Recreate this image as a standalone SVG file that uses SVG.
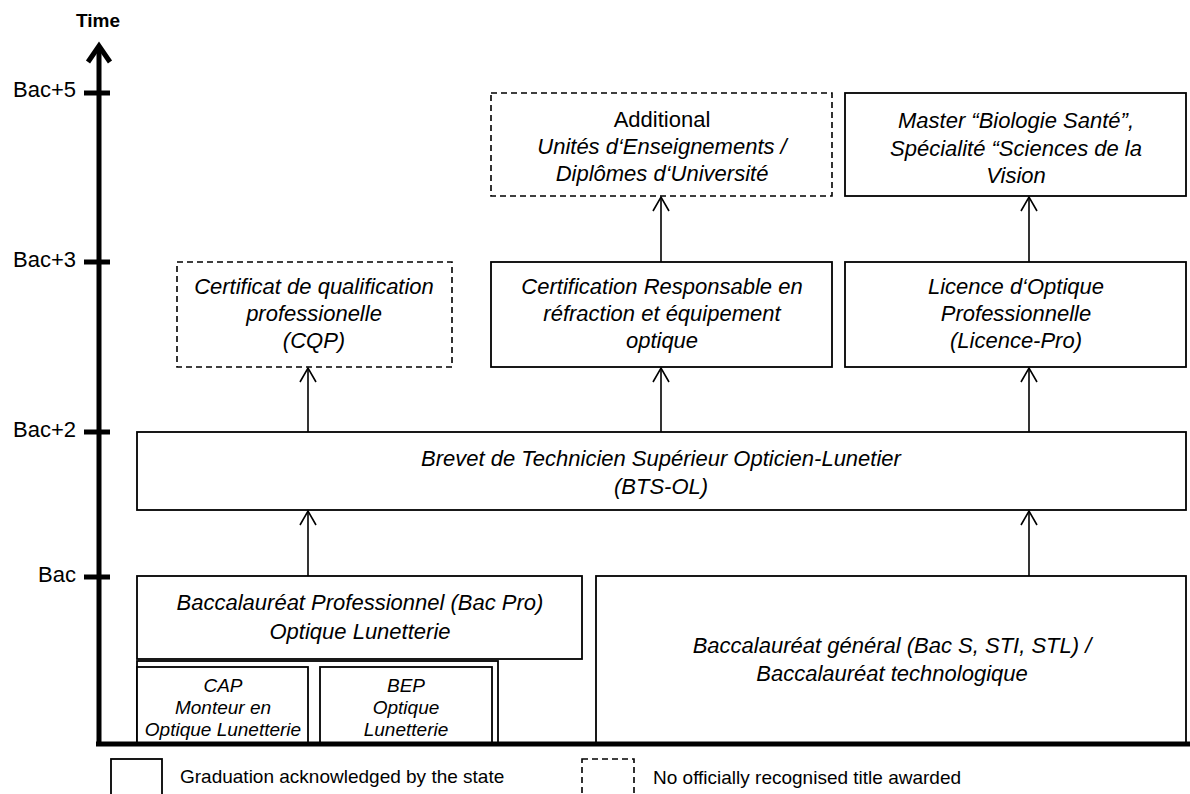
<svg xmlns="http://www.w3.org/2000/svg" width="1190" height="794" viewBox="0 0 1190 794">
<style>
  text { font-family: "Liberation Sans", Arial, sans-serif; fill: #000; }
  .box { fill: #fff; stroke: #000; stroke-width: 1.8; }
  .dash { fill: #fff; stroke: #000; stroke-width: 1.6; stroke-dasharray: 6 4; }
  .t { font-size: 22px; font-style: italic; text-anchor: middle; }
  .tn { font-size: 22px; text-anchor: middle; }
  .s { font-size: 19px; font-style: italic; text-anchor: middle; }
  .lbl { font-size: 22px; text-anchor: end; }
  .leg { font-size: 19px; }
  .axis { fill: none; stroke: #000; stroke-width: 5; }
  .conn { fill: none; stroke: #000; stroke-width: 1.6; marker-end: url(#arr); }
</style>
<defs>
  <marker id="arr" viewBox="-16 -10 18 20" refX="0" refY="0" markerWidth="18" markerHeight="20" markerUnits="userSpaceOnUse" orient="auto" overflow="visible">
    <path d="M-14,-8 L0,0 L-14,8" fill="none" stroke="#000" stroke-width="1.6"/>
  </marker>
</defs>

<g id="node-additional">
  <rect class="dash" x="491" y="93" width="341" height="103"/>
  <text class="tn" x="662" y="127">Additional</text>
  <text class="t" x="662" y="154">Unités d‘Enseignements  /</text>
  <text class="t" x="662" y="181">Diplômes d‘Université</text>
</g>
<g id="node-master">
  <rect class="box" x="845" y="93" width="341" height="103"/>
  <text class="t" x="1016" y="128">Master “Biologie  Santé”,</text>
  <text class="t" x="1016" y="156">Spécialité “Sciences de la</text>
  <text class="t" x="1016" y="183">Vision</text>
</g>
<g id="node-cqp">
  <rect class="dash" x="177" y="262" width="275" height="105"/>
  <text class="t" x="314" y="294">Certificat de qualification</text>
  <text class="t" x="314" y="321">professionelle</text>
  <text class="t" x="314" y="348">(CQP)</text>
</g>
<g id="node-certification">
  <rect class="box" x="491" y="262" width="341" height="105"/>
  <text class="t" x="662" y="294">Certification Responsable  en</text>
  <text class="t" x="662" y="321">réfraction et équipement</text>
  <text class="t" x="662" y="348">optique</text>
</g>
<g id="node-licence">
  <rect class="box" x="845" y="262" width="341" height="105"/>
  <text class="t" x="1016" y="294">Licence d‘Optique</text>
  <text class="t" x="1016" y="321">Professionnelle</text>
  <text class="t" x="1016" y="348">(Licence-Pro)</text>
</g>
<g id="node-bts">
  <rect class="box" x="137" y="432" width="1049" height="78"/>
  <text class="t" x="661" y="466">Brevet de Technicien Supérieur  Opticien-Lunetier</text>
  <text class="t" x="661" y="494">(BTS-OL)</text>
</g>
<g id="node-bacpro">
  <rect class="box" x="137" y="661" width="361" height="83"/>
  <rect class="box" x="137" y="576" width="445" height="83"/>
  <text class="t" x="360" y="610">Baccalauréat Professionnel (Bac Pro)</text>
  <text class="t" x="360" y="639">Optique Lunetterie</text>
</g>
<g id="node-cap">
  <rect class="box" x="137" y="667" width="171" height="77"/>
  <text class="s" x="223" y="692">CAP</text>
  <text class="s" x="223" y="714">Monteur en</text>
  <text class="s" x="223" y="736">Optique Lunetterie</text>
</g>
<g id="node-bep">
  <rect class="box" x="320" y="667" width="172" height="77"/>
  <text class="s" x="406" y="692">BEP</text>
  <text class="s" x="406" y="714">Optique</text>
  <text class="s" x="406" y="736">Lunetterie</text>
</g>
<g id="node-bacgeneral">
  <rect class="box" x="596" y="576" width="590" height="168"/>
  <text class="t" x="892" y="653">Baccalauréat général  (Bac S, STI, STL) /</text>
  <text class="t" x="892" y="681">Baccalauréat technologique</text>
</g>

<g id="connectors">
  <line class="conn" x1="308" y1="432" x2="308" y2="368"/>
  <line class="conn" x1="661" y1="432" x2="661" y2="368"/>
  <line class="conn" x1="1029" y1="432" x2="1029" y2="368"/>
  <line class="conn" x1="661" y1="262" x2="661" y2="197"/>
  <line class="conn" x1="1029" y1="262" x2="1029" y2="197"/>
  <line class="conn" x1="308" y1="576" x2="308" y2="511"/>
  <line class="conn" x1="1029" y1="576" x2="1029" y2="511"/>
</g>

<g id="axis">
  <line class="axis" x1="99" y1="746" x2="99" y2="46"/>
  <polyline class="axis" points="88,62 99,46 110,62"/>
  <line class="axis" x1="96" y1="744" x2="1190" y2="744"/>
  <line class="axis" x1="84" y1="93" x2="110" y2="93"/>
  <line class="axis" x1="84" y1="262" x2="110" y2="262"/>
  <line class="axis" x1="84" y1="432" x2="110" y2="432"/>
  <line class="axis" x1="84" y1="577" x2="110" y2="577"/>
  <text x="98" y="27" style="font-size:19px;font-weight:bold;text-anchor:middle">Time</text>
  <text class="lbl" x="76" y="97">Bac+5</text>
  <text class="lbl" x="76" y="267">Bac+3</text>
  <text class="lbl" x="76" y="437">Bac+2</text>
  <text class="lbl" x="76" y="582">Bac</text>
</g>

<g id="legend">
  <rect class="box" x="111" y="759" width="51" height="45"/>
  <text class="leg" x="180" y="783">Graduation acknowledged by the state</text>
  <rect class="dash" x="582" y="759" width="52" height="45"/>
  <text class="leg" x="653" y="784">No officially recognised title awarded</text>
</g>
</svg>
